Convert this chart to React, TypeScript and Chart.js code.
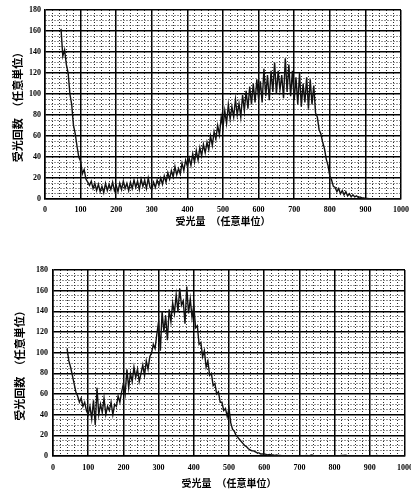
import React, { useEffect, useRef } from "react";
import { Chart, registerables } from "chart.js";

Chart.register(...registerables);

// ---- shared axis definition ----
const X_MIN = 0;
const X_MAX = 1000;
const X_MAJOR = 100;
const X_MINOR = 20;
const Y_MIN = 0;
const Y_MAX = 180;
const Y_MAJOR = 20;
const Y_MINOR = 5;
const X_TITLE = "受光量　（任意単位）";
const Y_TITLE = "受光回数　（任意単位）";

// ---- upper chart: counts sampled every 5 units starting at 45 ----
const TOP_START = 45;
const TOP_STEP = 5;
const TOP_VALUES: number[] = [
  // 45 - 95
  162, 136, 142, 128, 120, 100, 90, 70, 62, 50, 40,
  // 100 - 195
  36, 24, 28, 19, 16, 13, 17, 10, 15, 8, 14, 7, 12, 6, 15, 8, 14, 9, 16, 8,
  // 200 - 295
  13, 7, 15, 9, 17, 10, 15, 8, 16, 10, 18, 11, 17, 9, 19, 12, 18, 10, 20, 11,
  // 300 - 395
  9, 16, 11, 18, 13, 20, 14, 22, 16, 25, 19, 27, 21, 31, 23, 29, 24, 34, 27, 37,
  // 400 - 495
  31, 39, 32, 43, 35, 46, 37, 49, 41, 52, 44, 54, 47, 60, 51, 64, 57, 70, 61, 78,
  // 500 - 595
  68, 84, 72, 90, 76, 88, 78, 95, 80, 91, 78, 99, 84, 103, 86, 107, 90, 110, 92, 114,
  // 600 - 695
  95, 112, 92, 124, 98, 118, 94, 122, 102, 130, 100, 122, 104, 118, 96, 134, 102, 128, 98, 122,
  // 700 - 795
  94, 116, 90, 120, 88, 110, 92, 116, 86, 114, 90, 108, 82, 78, 66, 62, 54, 48, 38, 32,
  // 800 - 895
  22, 18, 12, 11, 7, 10, 5, 8, 4, 7, 3, 5, 2, 4, 2, 3, 1.5, 2, 1, 1,
  // 900 - 995
  0.5, 0.5, 0.2, 0.3, 0, 0.2, 0, 0, 0.2, 0, 0, 0, 0, 0, 0, 0, 0, 0, 0, 0,
  // 1000
  0,
];

// ---- lower chart: counts sampled every 5 units starting at 40 ----
const BOTTOM_START = 40;
const BOTTOM_STEP = 5;
const BOTTOM_VALUES: number[] = [
  // 40 - 95
  104, 92, 86, 78, 70, 62, 58, 52, 56, 48, 52, 44,
  // 100 - 195
  40, 48, 36, 54, 30, 66, 40, 50, 42, 56, 40, 48, 44, 52, 40, 50, 48, 58, 52, 62,
  // 200 - 295
  70, 60, 84, 66, 80, 72, 86, 76, 84, 72, 80, 88, 78, 92, 84, 96, 100, 108, 104, 118,
  // 300 - 395
  130, 102, 140, 120, 136, 112, 142, 130, 148, 138, 156, 140, 162, 146, 150, 128, 164, 138, 152, 134,
  // 400 - 495
  146, 124, 126, 108, 110, 96, 102, 86, 92, 78, 80, 68, 70, 60, 62, 52, 52, 44, 46, 38,
  // 500 - 595
  46, 32, 26, 24, 20, 18, 16, 14, 12, 10, 9, 7, 6, 5, 5, 4, 3, 3, 2, 2,
  // 600 - 695
  2, 1.5, 1, 1.5, 1, 1, 0.5, 1, 0.5, 0.5, 0.3, 0.3, 0.2, 0.3, 0, 0.2, 0, 0, 0, 0,
  // 700 - 795
  0, 0, 0, 0.3, 0.5, 0.3, 0.5, 1, 0.5, 0.3, 0, 0, 0, 0, 0, 0, 0, 0, 0, 0,
  // 800 - 895
  0, 0, 0, 0.3, 0.5, 0.5, 0.8, 0.5, 0.3, 0, 0, 0, 0, 0, 0, 0, 0, 0, 0, 0,
  // 900 - 995
  0, 0, 0, 0, 0.5, 0.3, 0, 0, 0, 0, 0, 0, 0, 0, 0, 0, 0, 0, 0, 0,
  // 1000
  0,
];

type Layout = {
  width: number;
  height: number;
  plotLeft: number;
  plotRight: number;
  plotTop: number;
  plotBottom: number;
  xTickPad: number;
  yTickPad: number;
  xTitlePadBottom: number;
  yTitlePadTop: number;
};

const TOP_LAYOUT: Layout = {
  width: 411,
  height: 245,
  plotLeft: 45,
  plotRight: 401,
  plotTop: 10,
  plotBottom: 199,
  xTickPad: 6,
  yTickPad: 4,
  xTitlePadBottom: 18,
  yTitlePadTop: 11,
};

const BOTTOM_LAYOUT: Layout = {
  width: 411,
  height: 246,
  plotLeft: 53,
  plotRight: 405,
  plotTop: 25,
  plotBottom: 211,
  xTickPad: 7,
  yTickPad: 5,
  xTitlePadBottom: 2,
  yTitlePadTop: 13,
};

const TICK_FONT = { family: "'Liberation Serif', 'DejaVu Serif', serif", size: 8, weight: "bold" as const };
const TITLE_FONT_X = { family: "'Noto Sans CJK JP', sans-serif", size: 10, weight: "bold" as const };
const TITLE_FONT_Y = { family: "'Noto Sans CJK JP', sans-serif", size: 11, weight: "bold" as const };

function isMajor(ctx: any, major: number) {
  return !ctx.tick || Math.round(ctx.tick.value) % major === 0;
}

function makeChart(canvas: HTMLCanvasElement, values: number[], start: number, step: number, L: Layout) {
  const points = values.map((v, i) => ({ x: start + i * step, y: v }));
  return new Chart(canvas, {
    type: "line",
    data: {
      datasets: [
        {
          data: points,
          borderColor: "#111",
          borderWidth: 1.4,
          pointRadius: 0,
          tension: 0,
          fill: false,
        },
      ],
    },
    options: {
      responsive: false,
      animation: false,
      events: [],
      layout: {
        padding: { top: L.plotTop, right: L.width - L.plotRight, left: 0, bottom: 0 },
      },
      plugins: { legend: { display: false }, tooltip: { enabled: false } },
      scales: {
        x: {
          type: "linear",
          min: X_MIN,
          max: X_MAX,
          afterFit: (s: any) => {
            s.height = L.height - L.plotBottom;
            s.paddingLeft = 0;
            s.paddingRight = 0;
          },
          ticks: {
            stepSize: X_MINOR,
            autoSkip: false,
            maxRotation: 0,
            minRotation: 0,
            padding: L.xTickPad,
            color: "#000",
            font: TICK_FONT,
            callback: (v: any) => (Math.round(v) % X_MAJOR === 0 ? String(v) : ""),
          },
          grid: {
            drawTicks: false,
            color: (ctx: any) => (isMajor(ctx, X_MAJOR) ? "#000" : "#2a2a2a"),
            lineWidth: (ctx: any) => (isMajor(ctx, X_MAJOR) ? 1.5 : 1),
          },
          border: {
            display: true,
            color: "#000",
            width: 1.5,
            dash: (ctx: any) => (isMajor(ctx, X_MAJOR) ? [] : [1, 2]),
          },
          title: {
            display: true,
            text: X_TITLE,
            color: "#000",
            font: TITLE_FONT_X,
            padding: { top: 0, bottom: L.xTitlePadBottom },
          },
        },
        y: {
          type: "linear",
          min: Y_MIN,
          max: Y_MAX,
          afterFit: (s: any) => {
            s.width = L.plotLeft;
            s.paddingTop = 0;
            s.paddingBottom = 0;
          },
          ticks: {
            stepSize: Y_MINOR,
            autoSkip: false,
            padding: L.yTickPad,
            color: "#000",
            font: TICK_FONT,
            callback: (v: any) => (Math.round(v) % Y_MAJOR === 0 ? String(v) : ""),
          },
          grid: {
            drawTicks: false,
            color: (ctx: any) => (isMajor(ctx, Y_MAJOR) ? "#000" : "#2a2a2a"),
            lineWidth: (ctx: any) => (isMajor(ctx, Y_MAJOR) ? 1.5 : 1),
          },
          border: {
            display: true,
            color: "#000",
            width: 1.5,
            dash: (ctx: any) => (isMajor(ctx, Y_MAJOR) ? [] : [1, 2]),
          },
          title: {
            display: true,
            text: Y_TITLE,
            color: "#000",
            font: TITLE_FONT_Y,
            padding: { top: L.yTitlePadTop, bottom: 0 },
          },
        },
      },
    } as any,
  });
}

export default function App() {
  const topRef = useRef<HTMLCanvasElement>(null);
  const bottomRef = useRef<HTMLCanvasElement>(null);

  useEffect(() => {
    const charts: Chart[] = [];
    if (topRef.current) charts.push(makeChart(topRef.current, TOP_VALUES, TOP_START, TOP_STEP, TOP_LAYOUT));
    if (bottomRef.current)
      charts.push(makeChart(bottomRef.current, BOTTOM_VALUES, BOTTOM_START, BOTTOM_STEP, BOTTOM_LAYOUT));
    return () => charts.forEach((c) => c.destroy());
  }, []);

  return (
    <div
      style={{
        position: "absolute",
        left: 0,
        top: 0,
        width: 411,
        height: 491,
        overflow: "hidden",
        background: "#fff",
      }}
    >
      <canvas
        ref={topRef}
        width={TOP_LAYOUT.width}
        height={TOP_LAYOUT.height}
        style={{ position: "absolute", left: 0, top: 0, width: TOP_LAYOUT.width, height: TOP_LAYOUT.height }}
      />
      <canvas
        ref={bottomRef}
        width={BOTTOM_LAYOUT.width}
        height={BOTTOM_LAYOUT.height}
        style={{ position: "absolute", left: 0, top: 245, width: BOTTOM_LAYOUT.width, height: BOTTOM_LAYOUT.height }}
      />
    </div>
  );
}
